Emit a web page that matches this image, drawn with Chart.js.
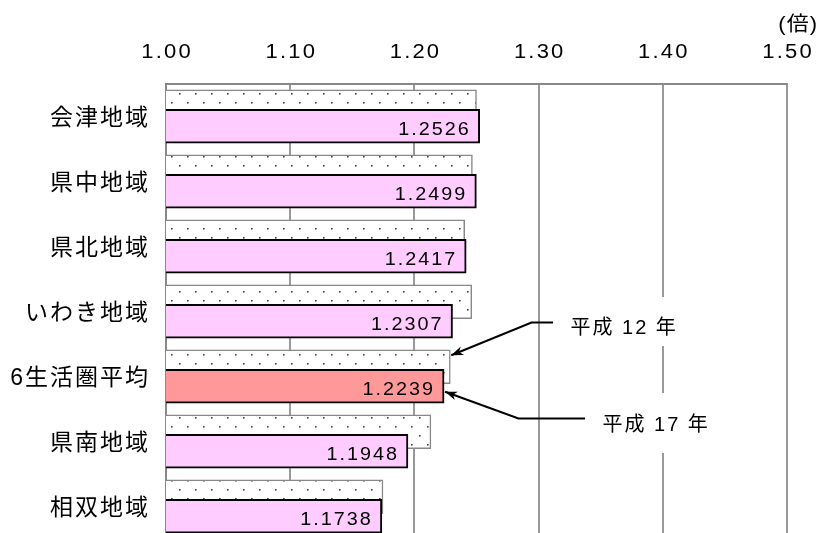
<!DOCTYPE html>
<html>
<head>
<meta charset="utf-8">
<script src="https://cdn.jsdelivr.net/npm/chart.js@4.4.1/dist/chart.umd.min.js"></script>
<style>
  html, body { margin: 0; padding: 0; background: #fff; overflow: hidden; }
  canvas { display: block; }
</style>
</head>
<body>
<canvas id="chart" width="818" height="560"></canvas>
<script>
// data
var regions = ['会津地域', '県中地域', '県北地域', 'いわき地域', '6生活圏平均', '県南地域', '相双地域'];
var h12 = [1.2500, 1.2467, 1.2405, 1.2462, 1.2289, 1.2133, 1.1747];
var h17 = [1.2526, 1.2499, 1.2417, 1.2307, 1.2239, 1.1948, 1.1738];
var tickLabels = ['1.00', '1.10', '1.20', '1.30', '1.40', '1.50'];
var unitLabel = '(倍)';
var seriesNames = ['平成 12 年', '平成 17 年'];
var avgIndex = 4;

var LATIN_CJK = '"Liberation Sans", "Noto Sans CJK JP", sans-serif';

// dotted fill for the 平成12年 bars
function dotPattern() {
    var c = document.createElement('canvas');
    c.width = 16; c.height = 18;
    var g = c.getContext('2d');
    g.fillStyle = '#fff';
    g.fillRect(0, 0, 16, 18);
    g.fillStyle = '#444';
    g.fillRect(3, 3, 1.6, 1.6);
    g.fillRect(11, 12, 1.6, 1.6);
    return document.getElementById('chart').getContext('2d').createPattern(c, 'repeat');
}

// draws text char by char with extra spacing and horizontal stretch
function drawText(ctx, str, x, y, align, gap, sx) {
    var chars = Array.from(str);
    var ws = chars.map(function (ch) { return ctx.measureText(ch).width * sx; });
    var total = ws.reduce(function (a, b) { return a + b; }, 0) + gap * (chars.length - 1);
    var cx = align === 'right' ? x - total : (align === 'center' ? x - total / 2 : x);
    ctx.textAlign = 'left';
    ctx.textBaseline = 'alphabetic';
    for (var i = 0; i < chars.length; i++) {
        ctx.save();
        ctx.translate(cx, y);
        ctx.scale(sx, 1);
        ctx.fillText(chars[i], 0, 0);
        ctx.restore();
        cx += ws[i] + gap;
    }
}

function arrow(ctx, pts) {
    ctx.beginPath();
    ctx.moveTo(pts[0][0], pts[0][1]);
    for (var i = 1; i < pts.length; i++) ctx.lineTo(pts[i][0], pts[i][1]);
    ctx.stroke();
    var tip = pts[pts.length - 1], prev = pts[pts.length - 2];
    var a = Math.atan2(tip[1] - prev[1], tip[0] - prev[0]);
    var len = 12, hw = 4.5;
    ctx.beginPath();
    ctx.moveTo(tip[0], tip[1]);
    ctx.lineTo(tip[0] - len * Math.cos(a) + hw * Math.sin(a), tip[1] - len * Math.sin(a) - hw * Math.cos(a));
    ctx.lineTo(tip[0] - len * 0.7 * Math.cos(a), tip[1] - len * 0.7 * Math.sin(a));
    ctx.lineTo(tip[0] - len * Math.cos(a) - hw * Math.sin(a), tip[1] - len * Math.sin(a) + hw * Math.cos(a));
    ctx.closePath();
    ctx.fill();
}

var textPlugin = {
    id: 'textPlugin',
    afterDatasetsDraw: function (chart) {
        var ctx = chart.ctx;
        var xs = chart.scales.x, ys = chart.scales.y;
        ctx.save();
        ctx.fillStyle = '#000';

        // top tick labels + unit
        ctx.font = '20px ' + LATIN_CJK;
        tickLabels.forEach(function (t) {
            drawText(ctx, t, xs.getPixelForValue(parseFloat(t)), 57.5, 'center', 2.2, 1.1);
        });
        drawText(ctx, unitLabel, 817, 31, 'right', 1, 1.1);

        // category labels
        ctx.font = '23px ' + LATIN_CJK;
        regions.forEach(function (r, i) {
            drawText(ctx, r, 148, ys.getPixelForValue(i) + 8.5, 'right', 2, 1);
        });

        // values inside the 平成17年 bars
        ctx.font = '18px ' + LATIN_CJK;
        chart.getDatasetMeta(1).data.forEach(function (el, i) {
            drawText(ctx, h17[i].toFixed(4), el.x - 11, el.y + 8.5, 'right', 2, 1.1);
        });
        ctx.restore();
    },
    afterDraw: function (chart) {
        var ctx = chart.ctx;
        var e12 = chart.getDatasetMeta(0).data[avgIndex];
        var e17 = chart.getDatasetMeta(1).data[avgIndex];
        ctx.save();
        // text boxes hide the gridline behind them
        ctx.fillStyle = '#fff';
        ctx.fillRect(557, 297, 140, 49);
        ctx.fillRect(590, 393, 140, 60);

        ctx.strokeStyle = '#000';
        ctx.fillStyle = '#000';
        ctx.lineWidth = 2;
        arrow(ctx, [[553, 322.5], [531.5, 322.5], [e12.x + 1, e12.y - 11.5]]);
        arrow(ctx, [[585, 418.5], [518.5, 418.5], [e17.x + 1, e17.y + 5.5]]);

        ctx.font = '20px ' + LATIN_CJK;
        drawText(ctx, seriesNames[0], 570.5, 333.5, 'left', 2, 1);
        drawText(ctx, seriesNames[1], 602.5, 431, 'left', 2, 1);
        ctx.restore();
    }
};

var pink = h17.map(function (v, i) { return i === avgIndex ? '#FF9999' : '#FFCCFF'; });

new Chart(document.getElementById('chart'), {
    type: 'bar',
    data: {
        datasets: [{
            label: seriesNames[0],
            data: h12.map(function (v, i) { return { x: v, y: i - 0.15 }; }),
            backgroundColor: dotPattern(),
            borderColor: '#888',
            borderWidth: 1.5,
            barThickness: 34,
            grouped: false,
            order: 2
        }, {
            label: seriesNames[1],
            data: h17.map(function (v, i) { return { x: v, y: i + 0.15 }; }),
            backgroundColor: pink,
            borderColor: '#000',
            borderWidth: 2,
            barThickness: 34,
            grouped: false,
            order: 1
        }]
    },
    options: {
        indexAxis: 'y',
        responsive: false,
        animation: false,
        devicePixelRatio: 1,
        layout: { padding: { left: 0, right: 31, top: 0, bottom: 21 } },
        plugins: {
            legend: { display: false },
            tooltip: { enabled: false }
        },
        scales: {
            x: {
                type: 'linear',
                position: 'top',
                min: 1.0,
                max: 1.5,
                ticks: { stepSize: 0.1, display: false },
                grid: { color: '#999', lineWidth: 2, drawTicks: false },
                border: { color: '#888', width: 2 },
                afterFit: function (s) { s.height = 84; }
            },
            y: {
                type: 'linear',
                reverse: true,
                offset: false,
                min: -0.5,
                max: 6.5,
                ticks: { display: false, padding: 0 },
                grid: { display: false, offset: false },
                border: { color: '#888', width: 2 },
                afterFit: function (s) {
                    s.width = 166;
                    s.paddingTop = 0;
                    s.paddingBottom = 0;
                }
            }
        }
    },
    plugins: [textPlugin]
});
</script>
</body>
</html>
